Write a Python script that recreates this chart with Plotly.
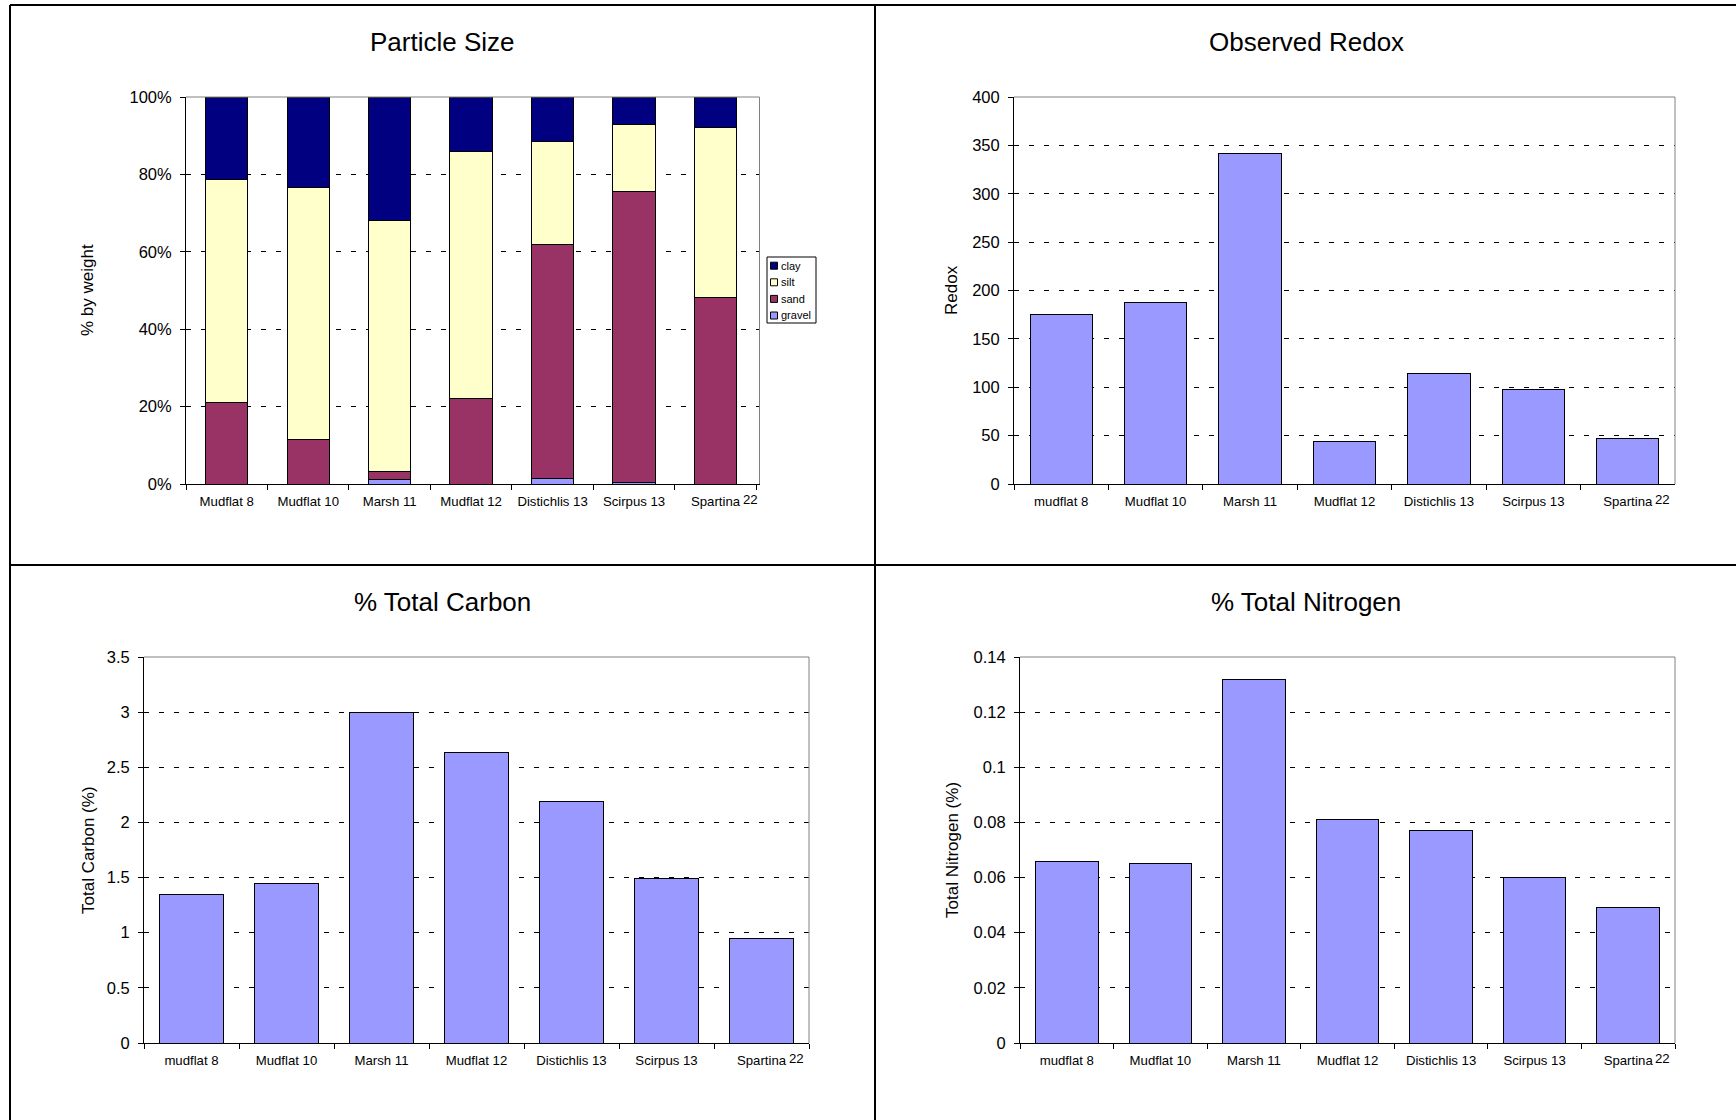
import plotly.graph_objects as go

W, H = 1736, 1120
FONT = "Liberation Sans, Arial, sans-serif"

# ---- data ----
particle_sites = ["Mudflat 8", "Mudflat 10", "Marsh 11", "Mudflat 12",
                  "Distichlis 13", "Scirpus 13", "Spartina 22"]
sites = ["mudflat 8", "Mudflat 10", "Marsh 11", "Mudflat 12",
         "Distichlis 13", "Scirpus 13", "Spartina 22"]

# particle size fractions, % by weight (stacked bottom to top)
fractions = ["gravel", "sand", "silt", "clay"]
gravel = [0.0, 0.0, 1.2, 0.0, 1.3, 0.5, 0.0]
sand = [21.0, 11.5, 2.0, 22.1, 60.5, 75.1, 48.3]
silt = [57.7, 65.2, 64.9, 63.8, 26.7, 17.2, 43.9]
clay = [21.3, 23.3, 31.9, 14.1, 11.5, 7.2, 7.8]

redox = [175, 188, 342, 44, 114, 98, 47]
total_carbon = [1.35, 1.45, 3.0, 2.63, 2.19, 1.49, 0.95]
total_nitrogen = [0.066, 0.065, 0.132, 0.081, 0.077, 0.060, 0.049]

fraction_colors = {"gravel": "#9999FF", "sand": "#993366",
                   "silt": "#FFFFCC", "clay": "#000080"}
BAR = "#9999FF"


def fx(p):
    return p / W


def fy(p):
    return 1 - p / H


def split_label(lbl):
    # the last site carries its number offset to the right of the name
    name, num = lbl.rsplit(" ", 1)
    return name, num


fig = go.Figure()

series = {"gravel": gravel, "sand": sand, "silt": silt, "clay": clay}
for name in fractions:
    fig.add_trace(go.Bar(
        x=particle_sites, y=series[name], name=name, width=0.52,
        marker=dict(color=fraction_colors[name], line=dict(color="black", width=1)),
        xaxis="x", yaxis="y", showlegend=False))

fig.add_trace(go.Bar(x=sites, y=redox, width=0.66,
                     marker=dict(color=BAR, line=dict(color="black", width=1)),
                     xaxis="x2", yaxis="y2", showlegend=False))
fig.add_trace(go.Bar(x=sites, y=total_carbon, width=0.67,
                     marker=dict(color=BAR, line=dict(color="black", width=1)),
                     xaxis="x3", yaxis="y3", showlegend=False))
fig.add_trace(go.Bar(x=sites, y=total_nitrogen, width=0.67,
                     marker=dict(color=BAR, line=dict(color="black", width=1)),
                     xaxis="x4", yaxis="y4", showlegend=False))

panels = [
    # (axis suffix, categories, x px range, y px range, y range, dtick, suffix)
    ("", particle_sites, (186, 759.5), (97, 484), (0, 100), 20, "%"),
    ("2", sites, (1014, 1675), (97, 484), (0, 400), 50, ""),
    ("3", sites, (144, 809), (657, 1043), (0, 3.5), 0.5, ""),
    ("4", sites, (1020, 1675), (657, 1043), (0, 0.14), 0.02, ""),
]

layout = dict(
    width=W, height=H, autosize=False,
    margin=dict(l=0, r=0, t=0, b=0, pad=0, autoexpand=False),
    paper_bgcolor="white", plot_bgcolor="white",
    barmode="stack", font=dict(family=FONT, color="black"),
    showlegend=False,
)
shapes = []
annotations = []

for suf, cats, (x0, x1), (y0, y1), yr, dt, tsuf in panels:
    xa = "xaxis" + suf
    ya = "yaxis" + suf
    ticktext = []
    for c in cats:
        if c == cats[-1]:
            ticktext.append(split_label(c)[0])
        else:
            ticktext.append(c)
    layout[xa] = dict(
        domain=[fx(x0), fx(x1)], anchor="y" + suf,
        type="category", categoryorder="array", categoryarray=cats,
        tickmode="array", tickvals=cats, ticktext=ticktext,
        tickson="boundaries", ticks="outside", ticklen=5, tickcolor="black",
        showline=True, linecolor="black", linewidth=1,
        showgrid=False, automargin=False, ticklabelstandoff=5,
        tickfont=dict(size=13.2, family=FONT, color="black"),
        fixedrange=True,
    )
    layout[ya] = dict(
        domain=[fy(y1), fy(y0)], anchor="x" + suf,
        range=list(yr), dtick=dt, tick0=0, ticksuffix=tsuf,
        ticks="outside", ticklen=5, tickcolor="black",
        showline=True, linecolor="black", linewidth=1,
        showgrid=True, gridcolor="black", gridwidth=1, griddash="5px,10px",
        zeroline=False, ticklabelstandoff=5, automargin=False,
        tickfont=dict(size=16.5, family=FONT, color="black"),
        fixedrange=True,
    )
    # gray frame on the top and right of the plot area
    shapes.append(dict(type="line", xref=f"x{suf} domain", yref=f"y{suf} domain",
                       x0=0, x1=1, y0=1, y1=1, line=dict(color="#808080", width=1)))
    shapes.append(dict(type="line", xref=f"x{suf} domain", yref=f"y{suf} domain",
                       x0=1, x1=1, y0=0, y1=1, line=dict(color="#808080", width=1)))
    # site number placed beside the last category name
    name, num = split_label(cats[-1])
    annotations.append(dict(
        xref="x" + suf, yref="paper", x=cats[-1], y=fy(y1 + 15.5),
        text=num, showarrow=False, xanchor="left", yanchor="middle",
        xshift=25, font=dict(size=13.2, family=FONT, color="black")))

# panel titles
titles = [("Particle Size", 442.5, 42), ("Observed Redox", 1306, 42),
          ("% Total Carbon", 442.5, 602), ("% Total Nitrogen", 1306, 602)]
for txt, x, y in titles:
    annotations.append(dict(xref="paper", yref="paper", x=fx(x), y=fy(y),
                            text=txt, showarrow=False, xanchor="center",
                            yanchor="middle", font=dict(size=26, family=FONT)))

# y axis titles
ytitles = [("% by weight", 88, 290), ("Redox", 952, 290),
           ("Total Carbon (%)", 88, 850), ("Total Nitrogen (%)", 952, 850)]
for txt, x, y in ytitles:
    annotations.append(dict(xref="paper", yref="paper", x=fx(x), y=fy(y),
                            text=txt, showarrow=False, textangle=-90,
                            xanchor="center", yanchor="middle",
                            font=dict(size=17, family=FONT)))

# legend for the particle size fractions
lx0, lx1, ly0, ly1 = 767, 816, 257, 323
shapes.append(dict(type="rect", xref="paper", yref="paper",
                   x0=fx(lx0), x1=fx(lx1), y0=fy(ly1), y1=fy(ly0),
                   line=dict(color="black", width=1), fillcolor="white"))
for i, name in enumerate(reversed(fractions)):
    cy = 265.7 + i * 16.6
    shapes.append(dict(type="rect", xref="paper", yref="paper",
                       x0=fx(770.5), x1=fx(777.5), y0=fy(cy + 3.5), y1=fy(cy - 3.5),
                       line=dict(color="black", width=1),
                       fillcolor=fraction_colors[name]))
    annotations.append(dict(xref="paper", yref="paper", x=fx(779), y=fy(cy),
                            text=name, showarrow=False, xanchor="left",
                            yanchor="middle", font=dict(size=11, family=FONT)))

# panel borders
border = dict(color="black", width=2)
for seg in [(10, 5, 10, H), (10, 5, W, 5), (875, 5, 875, H), (10, 565, W, 565)]:
    shapes.append(dict(type="line", xref="paper", yref="paper",
                       x0=fx(seg[0]), y0=fy(seg[1]), x1=fx(seg[2]), y1=fy(seg[3]),
                       line=border))

layout["shapes"] = shapes
layout["annotations"] = annotations
fig.update_layout(**layout)

fig.write_html("out.html")
